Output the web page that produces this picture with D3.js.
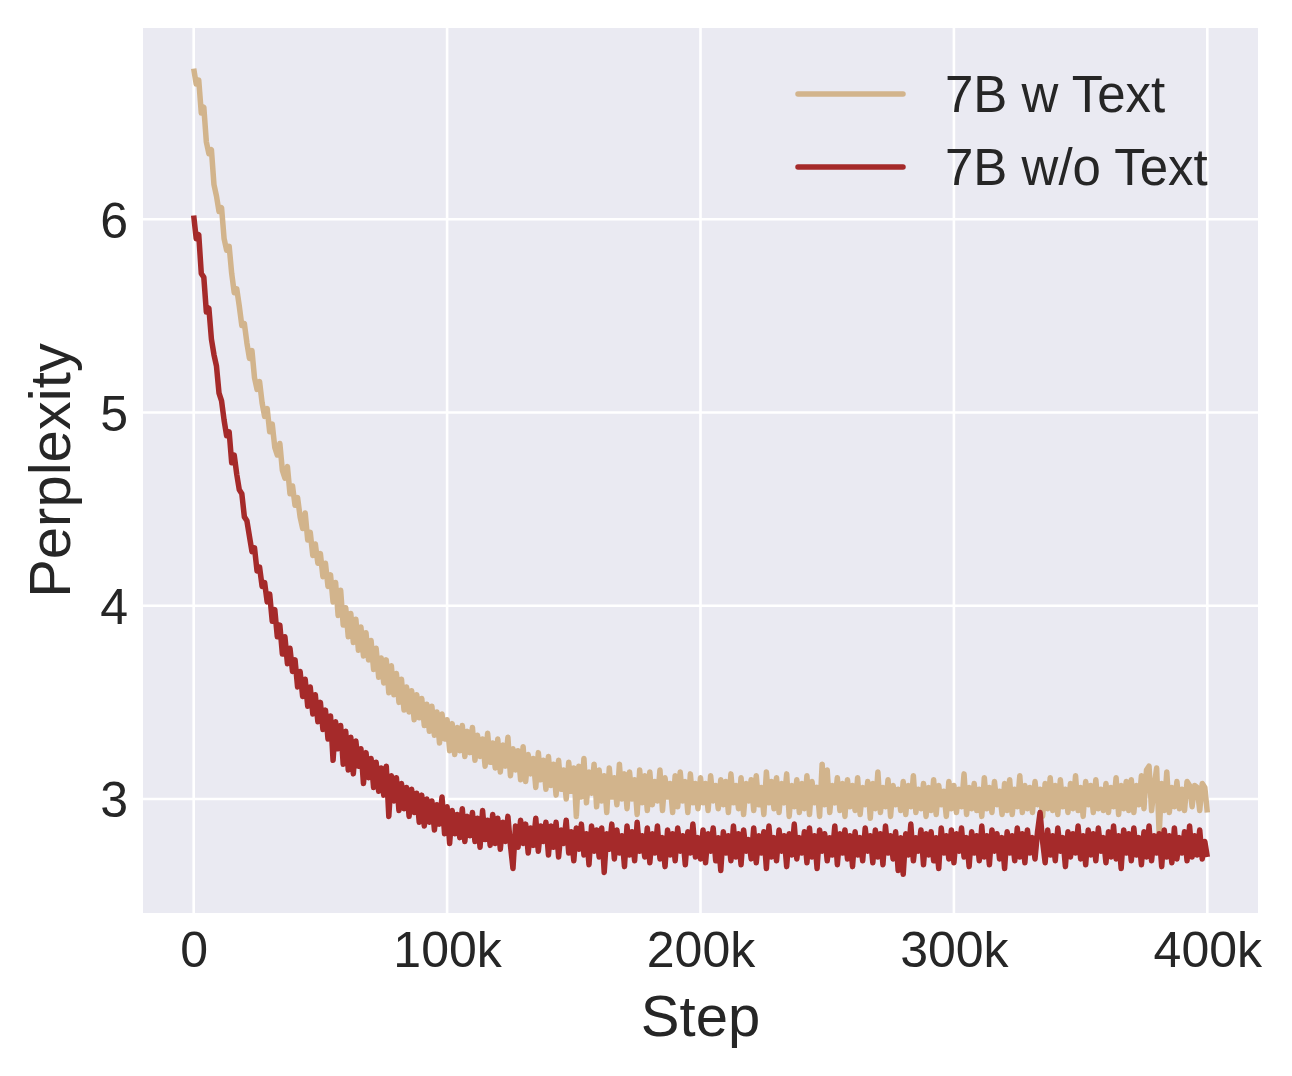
<!DOCTYPE html>
<html>
<head>
<meta charset="utf-8">
<script src="https://cdn.jsdelivr.net/npm/d3@7"></script>
<style>
  html, body { margin: 0; padding: 0; background: #ffffff; }
  svg { display: block; }
  text { font-family: "Liberation Sans", Arial, Helvetica, sans-serif; fill: #262626; }
</style>
</head>
<body>
<svg id="chart" width="1292" height="1076"></svg>
<script>
// ---------- data ----------
const stepSize = 1000; // training steps between logged points
const seriesNames = ["7B w Text", "7B w/o Text"];
const seriesColors = ["#D2B48C", "#A52A2A"];

const withText = [
  6.78, 6.70, 6.72, 6.55, 6.58, 6.40, 6.34, 6.36, 6.18, 6.12,
  6.04, 6.06, 5.90, 5.84, 5.86, 5.72, 5.62, 5.64, 5.55, 5.45,
  5.46, 5.36, 5.28, 5.32, 5.18, 5.12, 5.16, 5.05, 4.98, 5.02,
  4.90, 4.94, 4.82, 4.78, 4.84, 4.70, 4.66, 4.72, 4.58, 4.62,
  4.52, 4.56, 4.46, 4.40, 4.48, 4.34, 4.38, 4.26, 4.32, 4.22,
  4.27, 4.15, 4.22, 4.10, 4.16, 4.02, 4.12, 3.95, 4.08, 3.90,
  3.99, 3.84, 3.96, 3.81, 3.93, 3.77, 3.89, 3.74, 3.86, 3.72,
  3.82, 3.67, 3.78, 3.63, 3.73, 3.60, 3.72, 3.55, 3.69, 3.54,
  3.65, 3.50, 3.62, 3.46, 3.58, 3.45, 3.56, 3.41, 3.54, 3.42,
  3.52, 3.38, 3.49, 3.35, 3.48, 3.33, 3.45, 3.29, 3.44, 3.31,
  3.41, 3.25, 3.39, 3.23, 3.37, 3.25, 3.38, 3.22, 3.35, 3.24,
  3.37, 3.20, 3.33, 3.22, 3.31, 3.17, 3.34, 3.19, 3.29, 3.16,
  3.31, 3.14, 3.28, 3.17, 3.32, 3.12, 3.26, 3.15, 3.25, 3.10,
  3.27, 3.09, 3.23, 3.13, 3.21, 3.06, 3.24, 3.10, 3.20, 3.05,
  3.22, 3.07, 3.18, 3.02, 3.20, 3.05, 3.15, 3.00, 3.19, 3.04,
  3.16, 2.91, 3.17, 3.01, 3.21, 2.98, 3.14, 3.03, 3.18, 2.96,
  3.15, 2.99, 3.12, 2.93, 3.16, 3.01, 3.11, 2.97, 3.18, 3.00,
  3.13, 2.95, 3.14, 3.00, 3.10, 2.92, 3.15, 2.98, 3.12, 2.94,
  3.14, 2.97, 3.09, 2.99, 3.15, 2.94, 3.11, 3.01, 3.08, 2.93,
  3.12, 2.96, 3.14, 2.99, 3.09, 2.93, 3.13, 2.98, 3.08, 2.95,
  3.11, 2.98, 3.08, 2.94, 3.12, 2.99, 3.07, 2.95, 3.10, 2.97,
  3.09, 2.93, 3.13, 2.98, 3.07, 2.95, 3.11, 2.92, 3.08, 2.99,
  3.10, 2.94, 3.12, 2.97, 3.06, 2.92, 3.14, 2.98, 3.09, 2.95,
  3.11, 2.93, 3.08, 2.98, 3.13, 2.91, 3.07, 2.96, 3.10, 2.93,
  3.08, 2.95, 3.12, 2.92, 3.09, 2.98, 3.06, 2.91, 3.18, 2.97,
  3.15, 2.93, 3.07, 2.98, 3.11, 2.94, 3.08, 2.91, 3.10, 2.96,
  3.07, 2.94, 3.11, 2.92, 3.06, 2.97, 3.09, 2.90, 3.08, 2.95,
  3.14, 2.93, 3.06, 2.96, 3.10, 2.91, 3.07, 2.97, 3.05, 2.94,
  3.09, 2.92, 3.07, 2.96, 3.12, 2.93, 3.05, 2.95, 3.08, 2.91,
  3.06, 2.94, 3.10, 2.92, 3.07, 2.97, 3.04, 2.91, 3.09, 2.95,
  3.07, 2.93, 3.05, 2.96, 3.13, 2.92, 3.06, 2.95, 3.08, 2.94,
  3.05, 2.91, 3.11, 2.95, 3.06, 2.93, 3.09, 2.97, 3.04, 2.92,
  3.08, 2.94, 3.10, 2.92, 3.05, 2.96, 3.12, 2.93, 3.07, 2.95,
  3.06, 2.93, 3.09, 2.97, 3.05, 2.91, 3.08, 2.95, 3.11, 2.94,
  3.07, 2.92, 3.10, 2.96, 3.05, 2.93, 3.08, 2.95, 3.12, 2.94,
  3.06, 2.91, 3.09, 2.97, 3.07, 2.93, 3.10, 2.95, 3.05, 2.94,
  3.08, 2.93, 3.06, 2.96, 3.11, 2.92, 3.07, 2.95, 3.09, 2.94,
  3.10, 2.93, 3.07, 2.97, 3.12, 2.95, 3.15, 3.17, 2.94, 3.06,
  3.16, 2.82, 3.08, 2.94, 3.14, 2.93, 3.06, 2.96, 3.09, 2.95,
  3.05, 2.94, 3.09, 3.07, 2.96, 3.07, 3.06, 2.94, 3.08, 3.06,
  2.93
];

const withoutText = [
  6.02, 5.90, 5.92, 5.72, 5.70, 5.52, 5.54, 5.38, 5.30, 5.24,
  5.10, 5.06, 4.96, 4.88, 4.90, 4.74, 4.78, 4.68, 4.60, 4.58,
  4.46, 4.44, 4.36, 4.28, 4.30, 4.18, 4.20, 4.10, 4.12, 4.02,
  4.06, 3.92, 3.98, 3.84, 3.90, 3.75, 3.84, 3.70, 3.78, 3.66,
  3.72, 3.58, 3.66, 3.53, 3.62, 3.48, 3.58, 3.44, 3.54, 3.40,
  3.50, 3.36, 3.46, 3.31, 3.43, 3.20, 3.40, 3.26, 3.38, 3.18,
  3.35, 3.15, 3.32, 3.13, 3.30, 3.17, 3.26, 3.08, 3.24, 3.11,
  3.21, 3.06, 3.19, 3.04, 3.16, 3.02, 3.17, 2.91, 3.12, 2.99,
  3.11, 2.94, 3.08, 2.95, 3.06, 2.91, 3.05, 2.93, 3.03, 2.88,
  3.02, 2.86, 3.00, 2.88, 2.99, 2.84, 2.97, 2.87, 3.01, 2.82,
  2.96, 2.77, 2.94, 2.82, 2.92, 2.80, 2.95, 2.78, 2.91, 2.81,
  2.93, 2.78, 2.90, 2.75, 2.94, 2.79, 2.89, 2.76, 2.92, 2.77,
  2.90, 2.74, 2.88, 2.78, 2.91, 2.76, 2.64, 2.86, 2.75, 2.89,
  2.77, 2.87, 2.72, 2.85, 2.76, 2.90, 2.73, 2.86, 2.78, 2.88,
  2.71, 2.86, 2.75, 2.88, 2.70, 2.84, 2.77, 2.89, 2.72, 2.83,
  2.68, 2.85, 2.74, 2.87, 2.71, 2.82, 2.66, 2.86, 2.73, 2.84,
  2.70, 2.85, 2.62, 2.82, 2.74, 2.87, 2.69, 2.84, 2.72, 2.81,
  2.65, 2.86, 2.71, 2.83, 2.68, 2.88, 2.73, 2.81, 2.70, 2.85,
  2.67, 2.82, 2.72, 2.86, 2.69, 2.80, 2.65, 2.84, 2.71, 2.82,
  2.68, 2.85, 2.73, 2.81, 2.66, 2.83, 2.72, 2.87, 2.70, 2.80,
  2.69, 2.84, 2.67, 2.82, 2.73, 2.85, 2.68, 2.80, 2.63, 2.83,
  2.72, 2.81, 2.68, 2.86, 2.70, 2.82, 2.66, 2.84, 2.73, 2.79,
  2.69, 2.85, 2.67, 2.81, 2.72, 2.83, 2.64, 2.86, 2.70, 2.80,
  2.68, 2.84, 2.73, 2.81, 2.65, 2.82, 2.71, 2.87, 2.69, 2.80,
  2.72, 2.83, 2.67, 2.85, 2.70, 2.81, 2.64, 2.84, 2.73, 2.82,
  2.68, 2.80, 2.71, 2.86, 2.66, 2.82, 2.72, 2.84, 2.69, 2.81,
  2.65, 2.83, 2.71, 2.80, 2.68, 2.85, 2.73, 2.81, 2.67, 2.84,
  2.70, 2.82, 2.66, 2.86, 2.72, 2.81, 2.69, 2.83, 2.63, 2.80,
  2.61, 2.82, 2.71, 2.87, 2.68, 2.80, 2.73, 2.84, 2.66, 2.82,
  2.71, 2.83, 2.68, 2.80, 2.64, 2.85, 2.72, 2.81, 2.69, 2.84,
  2.67, 2.82, 2.73, 2.85, 2.70, 2.80, 2.65, 2.83, 2.72, 2.81,
  2.68, 2.86, 2.70, 2.81, 2.66, 2.84, 2.73, 2.82, 2.69, 2.80,
  2.64, 2.83, 2.72, 2.81, 2.68, 2.85, 2.70, 2.82, 2.67, 2.84,
  2.72, 2.80, 2.69, 2.83, 2.93, 2.78, 2.67, 2.84, 2.71, 2.81,
  2.68, 2.85, 2.73, 2.80, 2.65, 2.83, 2.70, 2.82, 2.72, 2.86,
  2.69, 2.81, 2.66, 2.84, 2.71, 2.82, 2.68, 2.85, 2.73, 2.80,
  2.67, 2.83, 2.70, 2.86, 2.69, 2.81, 2.64, 2.84, 2.72, 2.82,
  2.68, 2.85, 2.71, 2.80, 2.66, 2.83, 2.70, 2.86, 2.68, 2.81,
  2.72, 2.82, 2.65, 2.84, 2.70, 2.81, 2.67, 2.85, 2.69, 2.80,
  2.72, 2.83, 2.68, 2.86, 2.70, 2.81, 2.71, 2.84, 2.69, 2.78,
  2.70
];

const xTicks = [0, 100000, 200000, 300000, 400000];
const xTickLabels = ["0", "100k", "200k", "300k", "400k"];
const yTicks = [3, 4, 5, 6];
const yTickLabels = ["3", "4", "5", "6"];
const xLabel = "Step";
const yLabel = "Perplexity";

// ---------- layout ----------
const plot = { left: 143, right: 1258, top: 28, bottom: 913 };
const svg = d3.select("#chart");

const x = d3.scaleLinear().domain([-20000, 420000]).range([plot.left, plot.right]);
const y = d3.scaleLinear().domain([2.41, 6.99]).range([plot.bottom, plot.top]);

// background
svg.append("rect")
  .attr("x", plot.left).attr("y", plot.top)
  .attr("width", plot.right - plot.left).attr("height", plot.bottom - plot.top)
  .attr("fill", "#EAEAF2");

// grid
const grid = svg.append("g");
grid.selectAll("line.gx").data(xTicks).join("line")
  .attr("x1", d => x(d)).attr("x2", d => x(d))
  .attr("y1", plot.top).attr("y2", plot.bottom)
  .attr("stroke", "#ffffff").attr("stroke-width", 2.6);
grid.selectAll("line.gy").data(yTicks).join("line")
  .attr("y1", d => y(d)).attr("y2", d => y(d))
  .attr("x1", plot.left).attr("x2", plot.right)
  .attr("stroke", "#ffffff").attr("stroke-width", 2.6);

// axes (labels only, no spines / tick marks)
const xAxis = d3.axisBottom(x).tickValues(xTicks)
  .tickFormat((d, i) => xTickLabels[i]).tickSize(0).tickPadding(0);
const gx = svg.append("g").attr("transform", `translate(0,${plot.bottom})`).call(xAxis);
gx.select(".domain").remove();
gx.selectAll("text")
  .attr("y", 54).attr("dy", 0)
  .attr("font-size", 50)
  .attr("font-family", "Liberation Sans, Arial, sans-serif")
  .attr("fill", "#262626");

const yAxis = d3.axisLeft(y).tickValues(yTicks)
  .tickFormat((d, i) => yTickLabels[i]).tickSize(0).tickPadding(0);
const gy = svg.append("g").attr("transform", `translate(${plot.left},0)`).call(yAxis);
gy.select(".domain").remove();
gy.selectAll("text")
  .attr("x", -15).attr("dy", "0.36em")
  .attr("font-size", 50)
  .attr("font-family", "Liberation Sans, Arial, sans-serif")
  .attr("fill", "#262626");

// axis titles
svg.append("text")
  .attr("x", (plot.left + plot.right) / 2).attr("y", 1036)
  .attr("text-anchor", "middle").attr("font-size", 58)
  .text(xLabel);
svg.append("text")
  .attr("transform", `translate(70,${(plot.top + plot.bottom) / 2}) rotate(-90)`)
  .attr("text-anchor", "middle").attr("font-size", 58)
  .text(yLabel);

// lines
svg.append("clipPath").attr("id", "clip").append("rect")
  .attr("x", plot.left).attr("y", plot.top)
  .attr("width", plot.right - plot.left).attr("height", plot.bottom - plot.top);

const line = d3.line()
  .x((d, i) => x(i * stepSize))
  .y(d => y(d));

const allSeries = [withText, withoutText];
svg.append("g").attr("clip-path", "url(#clip)")
  .selectAll("path").data(allSeries).join("path")
  .attr("d", d => line(d))
  .attr("fill", "none")
  .attr("stroke", (d, i) => seriesColors[i])
  .attr("stroke-width", 5.5)
  .attr("stroke-linejoin", "round");

// legend
const legend = svg.append("g");
const legendY = [94, 167];
seriesNames.forEach((name, i) => {
  legend.append("line")
    .attr("x1", 798).attr("x2", 903)
    .attr("y1", legendY[i]).attr("y2", legendY[i])
    .attr("stroke", seriesColors[i]).attr("stroke-width", 5.5)
    .attr("stroke-linecap", "round");
  legend.append("text")
    .attr("x", 945).attr("y", legendY[i]).attr("dy", "0.36em")
    .attr("font-size", 51)
    .text(name);
});
</script>
</body>
</html>
